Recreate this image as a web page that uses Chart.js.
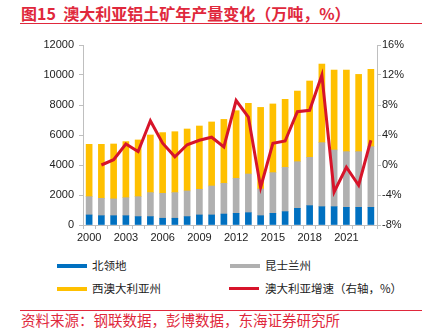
<!DOCTYPE html>
<html>
<head>
<meta charset="utf-8">
<script src="https://cdn.jsdelivr.net/npm/chart.js@4.4.1/dist/chart.umd.min.js"></script>
<style>
  html, body { margin: 0; padding: 0; background: #fff; }
  body { width: 425px; height: 328px; position: relative; overflow: hidden;
         font-family: "Noto Sans CJK SC", "Liberation Sans", sans-serif; }
  #title { position: absolute; left: 21px; top: 1px; font-size: 16px; font-weight: bold;
           color: #E0283C; white-space: nowrap; }
  .rule { position: absolute; left: 20px; width: 402px; height: 1px; background: #E0283C; }
  #box { position: absolute; left: 0; top: 30px; width: 425px; height: 220px; }
  .lg { position: absolute; font-size: 11.5px; color: #222; white-space: nowrap; }
  .sw { position: absolute; width: 30px; }
  #src { position: absolute; left: 21px; top: 313px; font-size: 14.5px; line-height: 1;
         color: #E0283C; white-space: nowrap; }
</style>
</head>
<body>
<div id="title">图15&nbsp;&nbsp;澳大利亚铝土矿年产量变化（万吨，%）</div>
<div class="rule" style="top:23px"></div>
<div id="box"><canvas id="c"></canvas></div>

<div class="sw" style="left:57px;top:264px;height:4px;background:#0070C0"></div>
<div class="lg" style="left:92px;top:257px">北领地</div>
<div class="sw" style="left:230px;top:264px;height:4px;background:#B0B0B0"></div>
<div class="lg" style="left:265px;top:257px">昆士兰州</div>
<div class="sw" style="left:57px;top:287px;height:4px;background:#FFC000"></div>
<div class="lg" style="left:92px;top:280px">西澳大利亚州</div>
<div class="sw" style="left:229px;top:287px;height:3px;background:#D7142A"></div>
<div class="lg" style="left:265px;top:280px">澳大利亚增速（右轴，%）</div>

<div class="rule" style="top:310px"></div>
<div id="src">资料来源：钢联数据，彭博数据，东海证券研究所</div>

<script>
const years = ['2000','2001','2002','2003','2004','2005','2006','2007','2008','2009','2010','2011',
               '2012','2013','2014','2015','2016','2017','2018','2019','2020','2021','2022','2023'];
// 万吨
const northernTerritory = [670, 620, 620, 620, 560, 560, 450, 450, 560, 670, 670, 730,
                           780, 820, 620, 780, 890, 1110, 1290, 1220, 1220, 1180, 1180, 1180];
const queensland = [1220, 1160, 1120, 1200, 1330, 1600, 1660, 1710, 1710, 1710, 1930, 2050,
                    2330, 2580, 1780, 2710, 2950, 3110, 3220, 4270, 3780, 3710, 3710, 4040];
const westernAustralia = [3490, 3600, 3660, 3740, 3780, 3840, 4050, 4060, 4130, 4220, 4270, 4260,
                          4510, 4710, 5440, 4580, 4540, 4710, 5090, 5240, 5330, 5440, 5150, 5160];
// %
const growth = [null, 0.0, 0.7, 2.8, 1.8, 5.9, 2.9, 1.1, 2.7, 3.3, 3.7, 2.4,
                8.6, 6.4, -3.0, 2.9, 3.2, 7.1, 7.3, 12.0, -3.6, -0.3, -2.7, 3.3];

const axisColor = '#BFBFBF';
const tickFont = { family: 'Liberation Sans, Arial, sans-serif', size: 11 };

new Chart(document.getElementById('c'), {
  type: 'bar',
  data: {
    labels: years,
    datasets: [
      { type: 'line', label: '澳大利亚增速（右轴，%）', data: growth, yAxisID: 'y1',
        borderColor: '#D7142A', borderWidth: 3, pointRadius: 0, tension: 0, order: 0 },
      { label: '北领地', data: northernTerritory, backgroundColor: '#0070C0', yAxisID: 'y', order: 1 },
      { label: '昆士兰州', data: queensland, backgroundColor: '#B0B0B0', yAxisID: 'y', order: 1 },
      { label: '西澳大利亚州', data: westernAustralia, backgroundColor: '#FFC000', yAxisID: 'y', order: 1 }
    ]
  },
  options: {
    responsive: true,
    maintainAspectRatio: false,
    animation: false,
    layout: { padding: { top: 15, left: 0, right: 0, bottom: 0 } },
    datasets: { bar: { barThickness: 6 } },
    plugins: { legend: { display: false }, tooltip: { enabled: false } },
    scales: {
      x: {
        stacked: true,
        offset: true,
        grid: { display: true, drawOnChartArea: false, offset: true, tickLength: 4, color: axisColor },
        border: { color: axisColor },
        ticks: {
          color: '#222', font: tickFont, maxRotation: 0, autoSkip: false, padding: 2,
          callback: (v, i) => (i % 3 === 0 ? years[i] : '')
        },
        afterFit: s => { s.height = 25; }
      },
      y: {
        stacked: true,
        position: 'left',
        min: 0, max: 12000,
        grid: { display: true, drawOnChartArea: false, tickLength: 4, color: axisColor },
        border: { color: axisColor },
        ticks: { stepSize: 2000, color: '#222', font: tickFont, padding: 5, callback: v => String(v) },
        afterFit: s => { s.width = 83; }
      },
      y1: {
        position: 'right',
        min: -8, max: 16,
        grid: { display: true, drawOnChartArea: false, tickLength: 4, color: axisColor },
        border: { color: axisColor },
        ticks: { stepSize: 4, color: '#222', font: tickFont, padding: 1, callback: v => v + '%' },
        afterFit: s => { s.width = 48; }
      }
    }
  }
});
</script>
</body>
</html>
